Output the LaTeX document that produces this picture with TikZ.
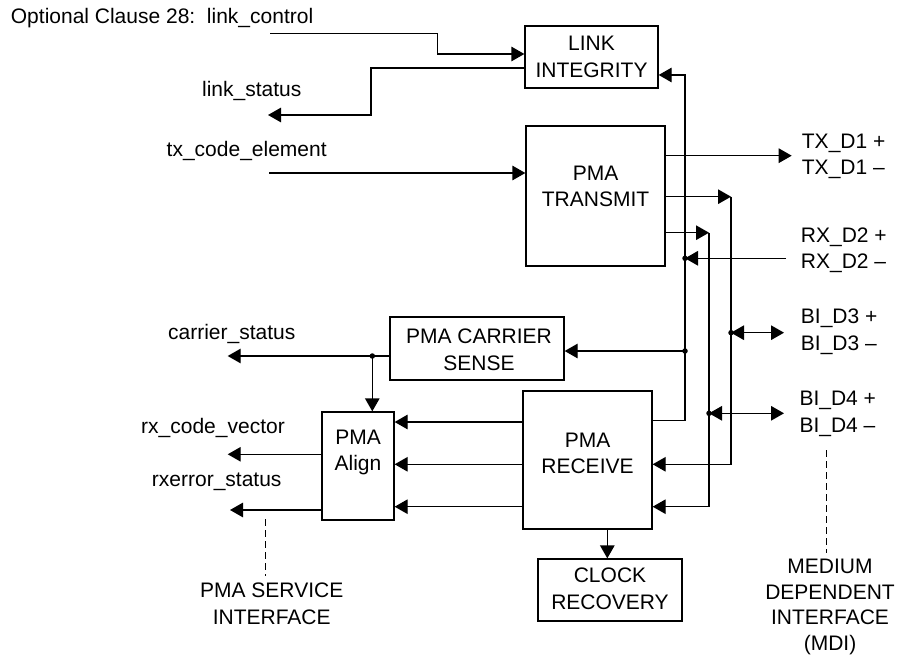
\documentclass[tikz,border=0pt]{standalone}
\usepackage{fontspec}
\setmainfont{Liberation Sans}
\usetikzlibrary{arrows.meta}
\begin{document}
\begin{tikzpicture}[x=1pt,y=-1pt,
  every node/.style={font=\fontsize{21}{26.5}\selectfont, inner sep=0pt},
  box/.style={draw, line width=1.3pt, rectangle},
  txt/.style={align=center},
  wire/.style={line width=1.3pt},
  arr/.style={wire, -{Triangle[length=13pt,width=14.5pt]}},
  barr/.style={wire, {Triangle[length=13pt,width=14.5pt]}-{Triangle[length=13pt,width=14.5pt]}},
  dot/.style={circle, fill, inner sep=0pt, minimum size=5.5pt},
  dsh/.style={line width=0.9pt, dash pattern=on 7pt off 4pt}
]
\useasboundingbox (0,0) rectangle (901,655);

% boxes
\node[box, minimum width=133pt, minimum height=62pt] (LI) at (591.5,57) {};
\node[box, minimum width=139pt, minimum height=140pt] (PT) at (595.5,196) {};
\node[box, minimum width=174pt, minimum height=63pt] (CS) at (477,348.5) {};
\node[box, minimum width=72pt, minimum height=108pt] (AL) at (358,466) {};
\node[box, minimum width=129pt, minimum height=138pt] (RX) at (587.5,460) {};
\node[box, minimum width=144pt, minimum height=62pt] (CR) at (610,590) {};

% box texts
\node[txt] (tLI) at (591.5,57) {LINK\\INTEGRITY};
\node[txt] (tPT) at (595.5,186.5) {PMA\\TRANSMIT};
\node[txt] (tCS) at (479,350) {PMA CARRIER\\SENSE};
\node[txt] (tAL) at (358,452.5) {PMA\\Align};
\node[txt] (tRX) at (587.5,453.3) {PMA\\RECEIVE};
\node[txt] (tCR) at (610,589) {CLOCK\\RECOVERY};

% labels
\node[anchor=west] (lOpt) at (10.7,18) {Optional Clause 28:\ \ link\_control};
\node (lLS) at (251.7,90.7) {link\_status};
\node (lTX) at (246.7,151) {tx\_code\_element};
\node[anchor=west, align=left] (lTXD) at (801.7,156.5) {TX\_D1 +\\TX\_D1 –};
\node[anchor=west, align=left] (lRXD) at (800.7,250.3) {RX\_D2 +\\RX\_D2 –};
\node[anchor=west, align=left] (lB3) at (800.7,332) {BI\_D3 +\\BI\_D3 –};
\node[anchor=west, align=left] (lB4) at (799.3,413.8) {BI\_D4 +\\BI\_D4 –};
\node (lCSt) at (231.7,334) {carrier\_status};
\node (lRCV) at (213,428) {rx\_code\_vector};
\node (lRES) at (216.7,481.7) {rxerror\_status};
\node[txt] (lPSI) at (271.7,604) {PMA SERVICE\\INTERFACE};
\node[txt, font=\fontsize{21}{25.8}\selectfont] (lMDI) at (830,607) {MEDIUM\\DEPENDENT\\INTERFACE\\(MDI)};

% free-end coordinates
\coordinate (lcS) at (270,33.5);
\coordinate (lsE) at (268,115);
\coordinate (txS) at (269,173);
\coordinate (td1E) at (791.7,155.7);
\coordinate (rxS) at (786,258.3);
\coordinate (b3E) at (784,332.7);
\coordinate (b4E) at (784,413.3);
\coordinate (csE) at (227.7,356);
\coordinate (rcvE) at (227.7,454.3);
\coordinate (resE) at (230,510);
\coordinate (v1) at (731,196.7);
\coordinate (v2) at (709,232.7);

% dots
\node[dot] (dRX) at (685,258.3) {};
\node[dot] (dCS) at (685,351) {};
\node[dot] (dB3) at (731,332.7) {};
\node[dot] (dB4) at (709,413.3) {};
\node[dot] (dCA) at (372.3,356) {};

% connectors
\draw[arr] (lcS) -- (437.7,33.5) -- (437.7,54) -- (LI.west |- 0,54);
\draw[arr] (LI.west |- 0,68) -- (371,68) -- (371,115) -- (lsE);
\draw[arr] (txS) -- (PT.west |- txS);
\draw[arr] (PT.east |- td1E) -- (td1E);
\draw[arr] (PT.east |- v1) -- (v1);
\draw[arr] (v1) -- (731,464.3) -- (RX.east |- 0,464.3);
\draw[arr] (PT.east |- v2) -- (v2);
\draw[arr] (v2) -- (709,506.7) -- (RX.east |- 0,506.7);
\draw[arr] (RX.east |- 0,420.7) -- (685,420.7) -- (685,75) -- (LI.east |- 0,75);
\draw[arr] (rxS) -- (dRX.center);
\draw[arr] (dCS.center) -- (CS.east |- dCS);
\draw[barr] (dB3.center) -- (b3E);
\draw[barr] (dB4.center) -- (b4E);
\draw[arr] (CS.west |- csE) -- (csE);
\draw[arr] (dCA.center) -- (dCA |- AL.north);
\draw[arr] (RX.west |- 0,422) -- (AL.east |- 0,422);
\draw[arr] (RX.west |- 0,464.3) -- (AL.east |- 0,464.3);
\draw[arr] (RX.west |- 0,506.7) -- (AL.east |- 0,506.7);
\draw[arr] (AL.west |- rcvE) -- (rcvE);
\draw[arr] (AL.west |- resE) -- (resE);
\draw[arr] (RX.south -| 607.3,0) -- (CR.north -| 607.3,0);
\draw[dsh] (265.7,519) -- (265.7,576);
\draw[dsh] (826.7,450) -- (826.7,553);
\end{tikzpicture}
\end{document}
